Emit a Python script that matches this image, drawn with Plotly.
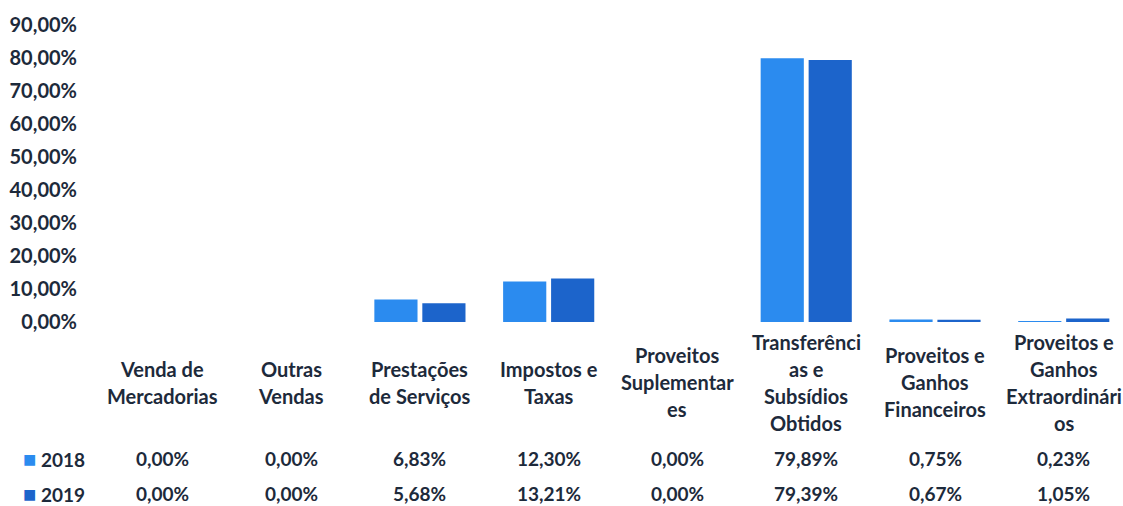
import plotly.graph_objects as go

categories = [
    "Venda de<br>Mercadorias",
    "Outras<br>Vendas",
    "Prestações<br>de Serviços",
    "Impostos e<br>Taxas",
    "Proveitos<br>Suplementar<br>es",
    "Transferênci<br>as e<br>Subsídios<br>Obtidos",
    "Proveitos e<br>Ganhos<br>Financeiros",
    "Proveitos e<br>Ganhos<br>Extraordinári<br>os",
]
series_names = ["2018", "2019"]
values_2018 = [0.00, 0.00, 6.83, 12.30, 0.00, 79.89, 0.75, 0.23]
values_2019 = [0.00, 0.00, 5.68, 13.21, 0.00, 79.39, 0.67, 1.05]
y_ticks = [0, 10, 20, 30, 40, 50, 60, 70, 80, 90]
y_tick_labels = ["0,00%", "10,00%", "20,00%", "30,00%", "40,00%",
                 "50,00%", "60,00%", "70,00%", "80,00%", "90,00%"]

colors = ["#2b8bef", "#1c64cb"]
text_color = "#1d2a3b"
FONT = "Lato"

def fmt(v):
    return f"{v:.2f}".replace(".", ",") + "%"

x_idx = list(range(len(categories)))

fig = go.Figure()
for name, vals, col in zip(series_names, [values_2018, values_2019], colors):
    fig.add_trace(go.Bar(
        x=x_idx, y=vals, name=name,
        marker=dict(color=col, line=dict(width=0)),
        showlegend=False,
    ))

W, H = 1123, 506
m_l, m_r, m_t, m_b = 98, 0, 25, 184
plot_h = H - m_t - m_b

annotations = []
label_center_px = 382
line_step = 27
for i, lab in enumerate(categories):
    lines = lab.split("<br>")
    n = len(lines)
    for k, ln in enumerate(lines):
        ypx = label_center_px + (k - (n - 1) / 2) * line_step
        ypaper = (H - m_b - ypx) / plot_h
        annotations.append(dict(
            x=i, y=ypaper, xref="x", yref="paper", text=ln, showarrow=False,
            xanchor="center", yanchor="middle",
            font=dict(family=FONT, size=20, color=text_color, weight="bold"),
        ))

row_px = [458, 493]
for name, vals, col, rp in zip(series_names, [values_2018, values_2019], colors, row_px):
    ypaper = (H - m_b - rp) / plot_h
    for i, v in enumerate(vals):
        annotations.append(dict(
            x=i, y=ypaper, xref="x", yref="paper", text=fmt(v), showarrow=False,
            xanchor="center", yanchor="middle",
            font=dict(family=FONT, size=19, color=text_color, weight="bold"),
        ))
    annotations.append(dict(
        x=-0.5, y=ypaper, xref="x", yref="paper",
        text=f"<span style='color:{col};font-size:22px'>■</span> {name}", showarrow=False,
        xanchor="right", yanchor="middle", xshift=-11,
        font=dict(family=FONT, size=19, color=text_color, weight="bold"),
    ))

fig.update_layout(
    width=W, height=H,
    margin=dict(l=m_l, r=m_r, t=m_t, b=m_b),
    paper_bgcolor="white", plot_bgcolor="white",
    barmode="group", bargap=0.255, bargroupgap=0.1,
    xaxis=dict(range=[-0.5, 7.46], showticklabels=False, showgrid=False,
               zeroline=False, showline=False, ticks=""),
    yaxis=dict(range=[0, 90], tickvals=y_ticks, ticktext=y_tick_labels,
               showgrid=False, zeroline=False, showline=False, ticks="",
               ticklabelstandoff=20,
               tickfont=dict(family=FONT, size=20, color=text_color, weight="bold")),
    annotations=annotations,
)

fig.write_html("out.html", config={"displayModeBar": False},
               post_script="document.body.style.margin='0';document.body.style.overflow='hidden';")
